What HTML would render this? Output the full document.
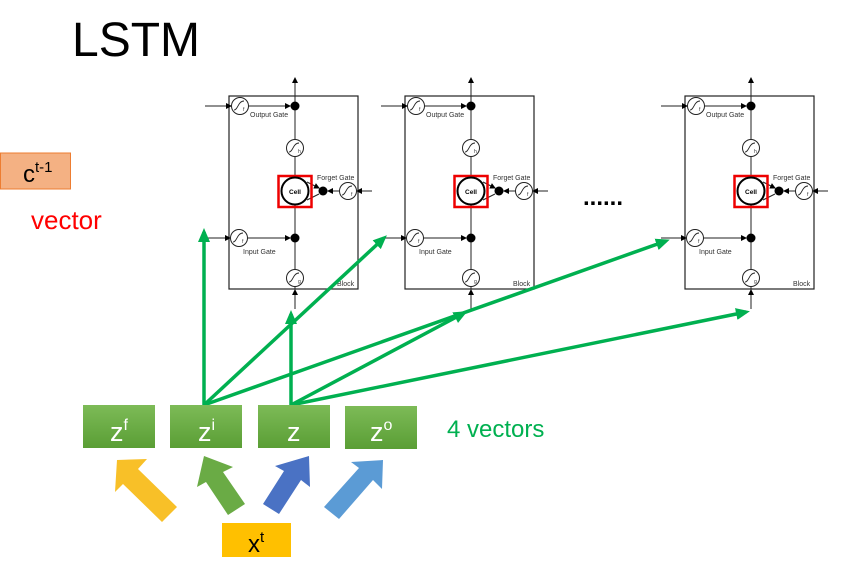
<!DOCTYPE html>
<html><head><meta charset="utf-8"><style>
body{margin:0;background:#fff;width:855px;height:572px;overflow:hidden;font-family:"Liberation Sans",sans-serif}
</style></head><body>
<svg width="855" height="572" viewBox="0 0 855 572" xmlns="http://www.w3.org/2000/svg">
<defs>
<marker id="a" markerWidth="6" markerHeight="6" refX="5" refY="3" orient="auto" markerUnits="userSpaceOnUse"><path d="M0,0L6,3L0,6z" fill="#000"/></marker>
<marker id="g" markerWidth="14" markerHeight="12" refX="10" refY="6" orient="auto" markerUnits="userSpaceOnUse"><path d="M0,0L14,6L0,12z" fill="#00b050"/></marker>
<g id="blk" font-family="Liberation Sans,sans-serif" font-size="7" fill="#333">
<rect x="0" y="0" width="129" height="193" fill="none" stroke="#222" stroke-width="1.2"/>
<g stroke="#222" stroke-width="1" fill="none">
<line x1="66" y1="193" x2="66" y2="-18" marker-end="url(#a)"/>
<line x1="66" y1="213" x2="66" y2="194" marker-end="url(#a)"/>
<line x1="-24" y1="10" x2="2" y2="10" marker-end="url(#a)"/>
<line x1="19" y1="10" x2="61" y2="10" marker-end="url(#a)"/>
<line x1="-24" y1="142" x2="1" y2="142" marker-end="url(#a)"/>
<line x1="18" y1="142" x2="61" y2="142" marker-end="url(#a)"/>
<line x1="143" y1="95" x2="128" y2="95" marker-end="url(#a)"/>
<line x1="111" y1="95" x2="99" y2="95" marker-end="url(#a)"/>
<path d="M78,86 L90,92" marker-end="url(#a)"/>
<path d="M90,98 L78,104"/>
</g>
<g fill="#fff" stroke="#222" stroke-width="1">
<circle cx="11" cy="10" r="8.5"/><circle cx="66" cy="52" r="8.5"/><circle cx="119" cy="95" r="8.5"/>
<circle cx="10" cy="142" r="8.5"/><circle cx="66" cy="182" r="8.5"/>
</g>
<g fill="none" stroke="#222" stroke-width="0.9">
<path d="M5,14 C9,14 9,5 15,5"/><path d="M60,56 C64,56 64,47 70,47"/><path d="M113,99 C117,99 117,90 123,90"/><path d="M4,146 C8,146 8,137 14,137"/><path d="M60,186 C64,186 64,177 70,177"/>
</g>
<text x="14" y="15" font-size="5">f</text><text x="69" y="57" font-size="5">h</text><text x="122" y="100" font-size="5">f</text><text x="13" y="147" font-size="5">f</text><text x="69" y="187" font-size="5">g</text>
<circle cx="66" cy="10" r="4.5" fill="#000"/><circle cx="66" cy="142" r="4.5" fill="#000"/><circle cx="94" cy="95" r="4.5" fill="#000"/>
<rect x="49.5" y="80" width="33" height="31" fill="none" stroke="#e00" stroke-width="2.5"/>
<circle cx="66" cy="95" r="13.5" fill="#fff" stroke="#000" stroke-width="2"/>
<text x="66" y="98" font-size="6.5" font-weight="bold" fill="#000" text-anchor="middle">Cell</text>
<text x="21" y="21">Output Gate</text>
<text x="88" y="84">Forget Gate</text>
<text x="14" y="158">Input Gate</text>
<text x="108" y="190">Block</text>
</g>
</defs>
<text x="72" y="56" font-size="48" fill="#000">LSTM</text>
<rect x="0.5" y="153" width="70" height="36" fill="#f4b183" stroke="#ed7d31"/>
<text x="23" y="182" font-size="24" fill="#000">c<tspan font-size="15" dy="-10">t-1</tspan></text>
<text x="31" y="229" font-size="26" fill="#f00">vector</text>
<use href="#blk" x="229" y="96"/>
<use href="#blk" x="405" y="96"/>
<use href="#blk" x="685" y="96"/>
<text x="583" y="205" font-size="24" font-weight="bold" fill="#000">......</text>
<g stroke="#00b050" stroke-width="3.5" fill="none">
<line x1="204" y1="405" x2="204" y2="232" marker-end="url(#g)"/>
<line x1="204" y1="405" x2="384" y2="238" marker-end="url(#g)"/>
<line x1="204" y1="405" x2="666" y2="241" marker-end="url(#g)"/>
<line x1="291" y1="405" x2="291" y2="314" marker-end="url(#g)"/>
<line x1="291" y1="405" x2="464" y2="313" marker-end="url(#g)"/>
<line x1="291" y1="405" x2="746" y2="312" marker-end="url(#g)"/>
</g>
<defs><linearGradient id="gr" x1="0" y1="0" x2="0" y2="1"><stop offset="0" stop-color="#7dbb57"/><stop offset="1" stop-color="#5a9e35"/></linearGradient></defs>
<g fill="url(#gr)">
<rect x="83" y="405" width="72" height="43"/><rect x="170" y="405" width="72" height="43"/>
<rect x="258" y="405" width="72" height="43"/><rect x="345" y="406" width="72" height="43"/>
</g>
<g fill="#fff" font-size="27">
<text x="110" y="441">z<tspan font-size="16" dy="-11">f</tspan></text>
<text x="198" y="441">z<tspan font-size="16" dy="-11">i</tspan></text>
<text x="287" y="441">z</text>
<text x="370" y="441">z<tspan font-size="16" dy="-11">o</tspan></text>
</g>
<text x="447" y="437" font-size="24" fill="#00b050">4 vectors</text>
<g>
<polygon points="117,460 147,459 138,469 177,507 162,522 123,484 115,492" fill="#f8c028"/>
<polygon points="204,456 233,467 223,472 245,504 228,515 206,482 197,487" fill="#6aab45"/>
<polygon points="309,456 310,487 301,480 279,514 263,504 284,471 275,466" fill="#4a72c4"/>
<polygon points="383,460 382,489 373,480 339,519 324,507 359,468 351,462" fill="#5b9bd5"/>
</g>
<rect x="222" y="523" width="69" height="34" fill="#ffc000"/>
<text x="248" y="552" font-size="24" fill="#000">x<tspan font-size="15" dy="-10">t</tspan></text>
</svg>
</body></html>
